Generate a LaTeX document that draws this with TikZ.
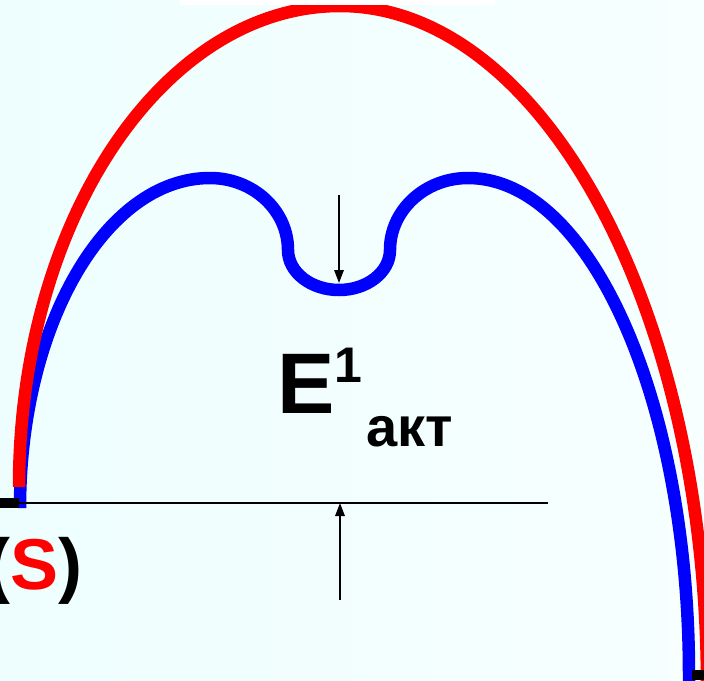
\documentclass[tikz,border=0pt]{standalone}
\usepackage{fontspec}
\setmainfont{Liberation Sans}
\usepackage{xcolor}
\definecolor{cRed}{HTML}{FF0000}
\definecolor{cBlue}{HTML}{0000FF}
\definecolor{cBgL}{HTML}{EEFEFE}
\definecolor{cBgR}{HTML}{F7FFFF}
\usetikzlibrary{arrows.meta}
\tikzset{
  curve-red/.style={draw=cRed,line width=12.5pt},
  curve-blue/.style={draw=cBlue,line width=12.5pt},
  level/.style={draw=black,line width=2pt},
  arrow/.style={-{Triangle[length=13pt,width=9.5pt]},line width=1.6pt,draw=black},
  txt/.style={anchor=base west,inner sep=0pt,font=\bfseries},
}

\begin{document}
\begin{tikzpicture}[x=1pt,y=-1pt]
  \shade[left color=cBgL,right color=cBgR] (0,0) rectangle (704,680);
  \useasboundingbox (0,0) rectangle (704,680);
  \clip (0,0) rectangle (704,680);
  % blue profile with the dip in the middle
  \draw[curve-blue] (20,508)
    arc[start angle=180,end angle=270,x radius=190,y radius=330]
    arc[start angle=270,end angle=360,x radius=78,y radius=72]
    arc[start angle=180,end angle=90,x radius=51,y radius=40]
    arc[start angle=90,end angle=0,x radius=51,y radius=40]
    arc[start angle=180,end angle=270,x radius=78,y radius=72]
    arc[start angle=270,end angle=360,x radius=221,y radius=497] -- ++(0,10);
  % red profile
  \draw[curve-red] (19,487)
    arc[start angle=180,end angle=270,x radius=321,y radius=481]
    arc[start angle=270,end angle=360,x radius=367,y radius=680];
  \fill[white] (180,0) rectangle (495,4.7);
  % level and end marks
  \coordinate (lvlL) at (19,503);
  \coordinate (lvlR) at (548,503);
  \draw[level] (lvlL) -- (lvlR);
  \fill[black] (0,498) rectangle (19,508);
  \fill[black] (692,670) rectangle (704,680);
  % arrows
  \coordinate (dipTop) at (339,195);
  \coordinate (dipBot) at (339,283);
  \coordinate (lvlFoot) at (340,600);
  \coordinate (lvlHit) at (340,503);
  \draw[arrow] (dipTop) -- (dipBot);
  \draw[arrow] (lvlFoot) -- (lvlHit);
  % labels
  \node[txt,font=\bfseries\fontsize{86}{86}\selectfont] (eLbl) at (277,413) {E};
  \node[txt,font=\bfseries\fontsize{50}{50}\selectfont] (eSup) at (334,382) {1};
  \node[txt,font=\bfseries\fontsize{56}{56}\selectfont] (eSub) at (366,446) {акт};
  \node[txt,font=\bfseries\fontsize{72}{72}\selectfont] (sLbl) at (-14,589) {(\textcolor{cRed}{S})};
\end{tikzpicture}
\end{document}
